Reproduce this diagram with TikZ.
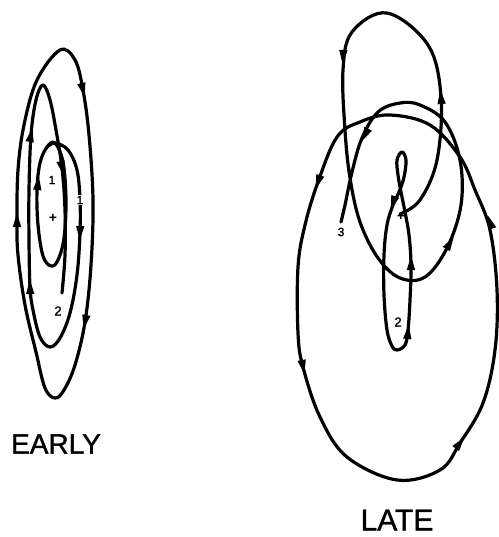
\documentclass[tikz,border=0pt]{standalone}
\usepackage{fontspec}
\setmainfont{Liberation Sans}
\newfontfamily\letfont[FakeBold=1.2]{Liberation Sans}
\usetikzlibrary{positioning}
\newcommand{\tip}[3]{\fill[shift={(#1,#2)},rotate=#3] (7,0) -- (-7,4.2) -- (-7,-4.2) -- cycle;}

\begin{document}
\begin{tikzpicture}[x=1pt, y=-1pt, traj/.style={line width=3.2pt, line cap=round, line join=round},
	lbl/.style={font=\letfont\fontsize{12}{12}\selectfont, inner sep=1pt},
	title/.style={font=\letfont\fontsize{28}{28}\selectfont, inner sep=0pt}]
	\useasboundingbox (0,0) rectangle (498,537);
	% early
	\draw[traj] plot[smooth cycle, tension=0.6] coordinates {(60,50) (75,60) (83,90) (89,135) (93,200) (91,265) (85,322) (75,365) (64,390) (55,398) (45,388) (36,352) (25,305) (18,255) (17,220) (18,170) (24,125) (37,80)};
	\draw[traj] plot[smooth cycle, tension=0.6] coordinates {(55,143) (63,162) (66,200) (64,238) (58,260) (51,266) (43,256) (38,225) (37,190) (40,163) (47,147)};
	\draw[traj] plot[smooth, tension=0.6] coordinates {(47,147) (55,143) (68,150) (77,170) (80,200) (80,233) (77,275) (70,313) (60,338) (50,347) (40,337) (33,310) (30,287) (29,240) (29,190) (31,135) (36,100) (43,85) (50,100) (56,130) (62,168) (65,210) (65,255) (62,293)};
	\tip{83}{90}{-76} \tip{85}{322}{-101} \tip{17}{220}{90} \tip{38}{183}{84}
	\tip{80}{233}{-92} \tip{30}{287}{92} \tip{31}{135}{79} \tip{62}{168}{-77}
	\node[lbl] (e1) at (52,180) {1};
	\node[lbl, fill=white] (e1r) at (80,200) {1};
	\node[font=\bfseries\fontsize{14}{14}\selectfont, inner sep=0pt] (ec) at (53,218) {+};
	\node[lbl, font=\letfont\fontsize{13}{13}\selectfont] (e2) at (58,311) {2};
	\node[title] (early) at (56,444) {EARLY};
	% late
	\draw[traj] plot[smooth cycle, tension=0.6] coordinates {(390,115) (360,122) (337,137) (318,182) (305,225) (298,267) (298,333) (303,367) (320,417) (347,457) (397,480) (440,470) (460,443) (483,403) (495,350) (497,290) (490,230) (475,190) (460,157) (430,125)};
	\draw[traj] plot[smooth, tension=0.6] coordinates {(400,214) (420,200) (437,160) (441,97) (428,45) (387,13) (352,32) (343,70) (345,130) (350,178) (360,222) (378,258) (400,278) (425,277) (447,248) (461,205) (460,160) (445,122) (420,105) (400,103) (378,112) (362,138) (352,172) (345,205) (341,222)};
	\draw[traj] plot[smooth cycle, tension=0.6] coordinates {(397,350) (405,345) (408,330) (410,300) (411,265) (409,235) (405,212) (401,192) (398,175) (397,160) (402,152) (406,160) (404,177) (399,192) (393,205) (387,225) (384,255) (384,295) (387,330) (392,346)};
	\tip{343}{57}{-93} \tip{441}{97}{95} \tip{318}{182}{-109} \tip{303}{367}{-79}
	\tip{460}{443}{52} \tip{490}{222}{109} \tip{365}{135}{-117} \tip{450}{243}{59}
	\tip{411}{263}{90} \tip{408}{332}{84} \tip{393}{203}{-109}
	\node[lbl] (l3) at (341,232) {3};
	\node[lbl, fill=white, font=\letfont\fontsize{13}{13}\selectfont] (l2) at (398,322) {2};
	\node[font=\bfseries\fontsize{13}{13}\selectfont, inner sep=0pt] (lc) at (401,217) {+};
	\node[title, font=\letfont\fontsize{30}{30}\selectfont] (late) at (397,520) {LATE};
\end{tikzpicture}
\end{document}
